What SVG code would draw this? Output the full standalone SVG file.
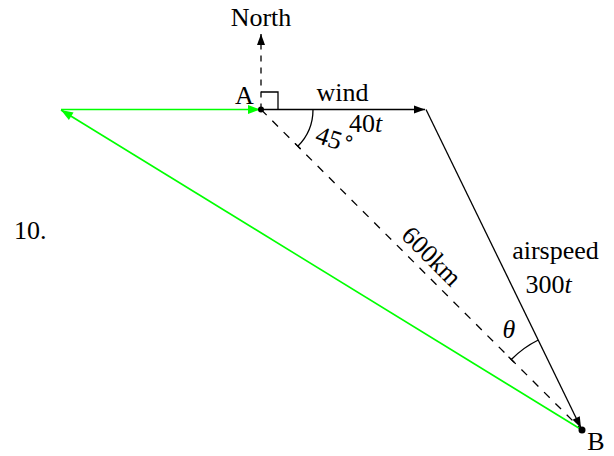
<svg xmlns="http://www.w3.org/2000/svg" width="614" height="456" viewBox="0 0 614 456">
<style>
text{font-family:"Liberation Serif","Times New Roman",serif;font-size:26px;fill:#000}
.it{font-style:italic}
.blk{fill:none;stroke:#000;stroke-width:1.3}
.dash{stroke-dasharray:8,8}
.dashn{stroke-dasharray:6,6}
.grn{fill:none;stroke:#00ff00;stroke-width:1.6}
</style>
<defs>
<marker id="ab" markerUnits="userSpaceOnUse" markerWidth="12" markerHeight="9" refX="11" refY="4" orient="auto" viewBox="0 0 12 8" overflow="visible">
<path d="M0,0 L11,4 L0,8 Z" fill="#000"/>
</marker>
<marker id="ag" markerUnits="userSpaceOnUse" markerWidth="13" markerHeight="9" refX="12" refY="4.5" orient="auto" viewBox="0 0 13 9" overflow="visible">
<path d="M0,0 L12,4.5 L0,9 Z" fill="#00ff00"/>
</marker>
</defs>
<g id="connectors">
<line id="north" class="blk dashn" x1="261" y1="109.5" x2="261" y2="34" marker-end="url(#ab)"/>
<path id="rightangle" class="blk" d="M261,92 H278 V109.5"/>
<line id="wind-line" class="blk" x1="261" y1="109.5" x2="425" y2="109.5" marker-end="url(#ab)"/>
<line id="dist" class="blk dash" x1="261" y1="109.5" x2="582" y2="430"/>
<line id="airspeed-line" class="blk" x1="426" y1="109.5" x2="581" y2="428" marker-end="url(#ab)"/>
<path id="arc45" class="blk" d="M313,109.5 A52,52 0 0 1 297.8,146.3 M295,143.4 L300.6,149"/>
<path id="arctheta" class="blk" d="M511.3,359.5 A100,100 0 0 1 538.3,340 M514.1,362.3 L508.5,356.7"/>
<line id="g1" class="grn" x1="582" y1="430" x2="61" y2="110" marker-end="url(#ag)"/>
<line id="g2" class="grn" x1="61" y1="109.5" x2="260" y2="109.5" stroke-width="2" marker-end="url(#ag)"/>
</g>
<g id="A">
<circle cx="261" cy="109.5" r="3" fill="#000"/>
<text x="244.5" y="104" text-anchor="middle">A</text>
</g>
<g id="B">
<circle cx="582" cy="430" r="3.5" fill="#000"/>
<text x="596" y="450" text-anchor="middle" font-size="24">B</text>
</g>
<g id="labels">
<text x="261" y="26" text-anchor="middle">North</text>
<text x="342.5" y="101" text-anchor="middle">wind</text>
<text x="365.5" y="132" text-anchor="middle">40<tspan class="it">t</tspan></text>
<text transform="translate(314,142) rotate(18)">45<tspan dy="-8" font-family="DejaVu Sans" font-size="20">∘</tspan></text>
<text transform="translate(432,256) rotate(45)" x="0" y="9" text-anchor="middle">600km</text>
<text x="555.5" y="259" text-anchor="middle">airspeed</text>
<text x="548.5" y="293" text-anchor="middle">300<tspan class="it">t</tspan></text>
<text class="it" x="509" y="338" text-anchor="middle">θ</text>
<text x="14" y="239">10.</text>
</g>
</svg>
